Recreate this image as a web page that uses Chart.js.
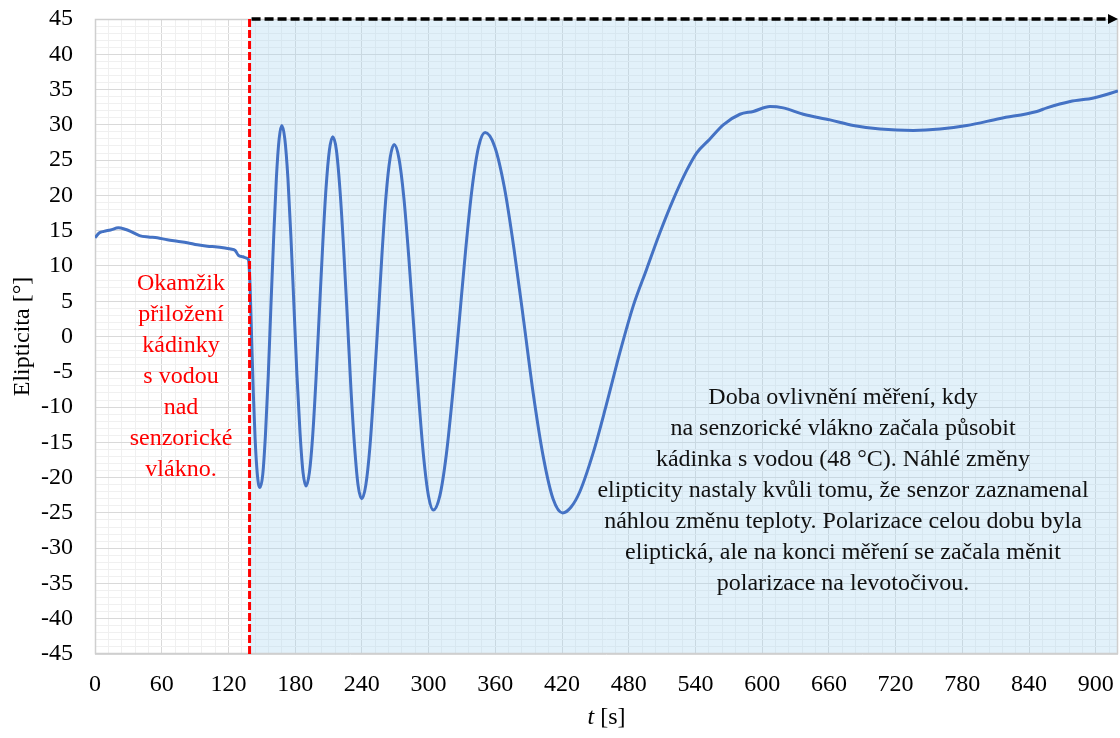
<!DOCTYPE html>
<html>
<head>
<meta charset="utf-8">
<script src="https://cdn.jsdelivr.net/npm/chart.js@4.4.1/dist/chart.umd.min.js"></script>
<style>
  html, body { margin: 0; padding: 0; background: #fff; }
</style>
</head>
<body>
<canvas id="chart" width="1120" height="738"></canvas>
<script>
const timeS = [
  0, 4, 8, 14, 21, 27, 32, 40, 48, 56, 65, 74, 83, 92, 101, 110, 118, 122, 126, 129, 133, 136.5, 138,
  139.5, 141, 142.5, 144, 145.5, 147, 148.4,
  150.9, 153.3, 155.8, 158.2, 160.7, 163.1, 165.6, 168,
  170.7, 173.5, 176.2, 178.9, 181.6, 184.4, 187.1, 189.8,
  192.8, 195.8, 198.8, 201.8, 204.8, 207.8, 210.8, 213.8,
  217.1, 220.3, 223.6, 226.9, 230.1, 233.4, 236.6, 239.9,
  243.5, 247.2, 250.8, 254.5, 258.1, 261.7, 265.4, 269,
  273.4, 277.8, 282.2, 286.7, 291.1, 295.5, 299.9, 304.3,
  310.1, 315.9, 321.7, 327.6, 333.4, 339.2, 345, 350.8,
  359.5, 368.3, 377, 385.7, 394.4, 403.2, 411.9, 420.6,
  428, 436, 448, 460, 472, 484, 496, 508, 520, 532, 541, 553, 565, 580, 592, 607, 619,
  637, 661, 682, 706, 736, 760, 784, 814, 847, 856, 877, 898, 920
];
const elipticita = [
  14.0, 14.7, 14.9, 15.1, 15.4, 15.2, 14.9, 14.3, 14.1, 14.0, 13.7, 13.5, 13.3, 13.0, 12.8, 12.7, 12.5, 12.4, 12.2, 11.5, 11.3, 11.1, 10.9,
  7.0, -1.0, -8.5, -14.5, -18.6, -20.9, -21.4,
  -19.5, -13.9, -5.6, 4.3, 14.1, 22.4, 28.0, 29.9,
  28.0, 22.4, 14.1, 4.4, -5.4, -13.7, -19.3, -21.2,
  -19.3, -14.0, -5.9, 3.6, 13.0, 21.1, 26.4, 28.3,
  26.4, 20.8, 12.5, 2.7, -7.2, -15.5, -21.1, -23.0,
  -21.1, -15.7, -7.5, 2.1, 11.7, 19.9, 25.3, 27.2,
  25.2, 19.6, 11.2, 1.3, -8.6, -17.0, -22.6, -24.6,
  -22.6, -16.8, -8.1, 2.2, 12.4, 21.1, 26.9, 28.9,
  26.9, 21.0, 12.2, 2.0, -8.4, -17.1, -23.0, -25.0,
  -24.2, -22.0, -16.5, -9.6, -2.3, 4.3, 9.5, 14.7, 19.4, 23.5, 26.0, 28.0, 30.0, 31.5, 31.9, 32.6, 32.4,
  31.5, 30.7, 29.9, 29.4, 29.2, 29.4, 29.9, 30.9, 31.9, 32.4, 33.3, 33.8, 34.8
];

const xRange = [0, 920];
const yRange = [-45, 45];
const xMajorStep = 60, xMinorStep = 12;
const yMajorStep = 5, yMinorStep = 1;
const contactTime = 139; // moment the beaker was applied

const leftNote = ['Okamžik', 'přiložení', 'kádinky', 's vodou', 'nad', 'senzorické', 'vlákno.'];
const rightNote = [
  'Doba ovlivnění měření, kdy',
  'na senzorické vlákno začala působit',
  'kádinka s vodou (48 °C). Náhlé změny',
  'elipticity nastaly kvůli tomu, že senzor zaznamenal',
  'náhlou změnu teploty. Polarizace celou dobu byla',
  'eliptická, ale na konci měření se začala měnit',
  'polarizace na levotočivou.'
];

const FONT = '"Liberation Serif", "Times New Roman", serif';
const points = timeS.map((t, i) => ({ x: t, y: elipticita[i] }));

const overlay = {
  id: 'overlay',
  beforeDatasetsDraw(chart) {
    const { ctx, chartArea: a, scales: { x } } = chart;
    const x0 = x.getPixelForValue(contactTime);
    ctx.save();
    ctx.fillStyle = 'rgba(173,216,240,0.35)';
    ctx.fillRect(x0, a.top, a.right - x0, a.bottom - a.top);
    ctx.strokeStyle = '#cfcfcf';
    ctx.lineWidth = 1.5;
    ctx.strokeRect(a.left + 0.5, a.top + 0.5, a.right - a.left - 1, a.bottom - a.top - 1);
    ctx.restore();
  },
  afterDatasetsDraw(chart) {
    const { ctx, chartArea: a, scales: { x, y } } = chart;
    const x0 = x.getPixelForValue(contactTime);
    ctx.save();
    // red dashed marker
    ctx.strokeStyle = '#ff0000';
    ctx.lineWidth = 3;
    ctx.setLineDash([8, 3]);
    ctx.beginPath();
    ctx.moveTo(x0, a.top);
    ctx.lineTo(x0, a.bottom);
    ctx.stroke();
    // black dashed arrow along the top
    const yTop = y.getPixelForValue(yRange[1]);
    ctx.strokeStyle = '#000';
    ctx.lineWidth = 3.5;
    ctx.setLineDash([9, 4]);
    ctx.beginPath();
    ctx.moveTo(x0 + 2, yTop);
    ctx.lineTo(a.right - 10, yTop);
    ctx.stroke();
    ctx.setLineDash([]);
    ctx.fillStyle = '#000';
    ctx.beginPath();
    ctx.moveTo(a.right, yTop);
    ctx.lineTo(a.right - 10, yTop - 5);
    ctx.lineTo(a.right - 10, yTop + 5);
    ctx.closePath();
    ctx.fill();

    // notes
    ctx.font = '24px ' + FONT;
    ctx.textAlign = 'center';
    ctx.textBaseline = 'middle';
    ctx.fillStyle = '#ff0000';
    leftNote.forEach((s, i) => ctx.fillText(s, 181, 284 + i * 31));
    ctx.fillStyle = '#111';
    rightNote.forEach((s, i) => ctx.fillText(s, 843, 398 + i * 31));

    // x axis title with italic t
    const cx = (a.left + a.right) / 2;
    const ty = 718;
    ctx.font = 'italic 24px ' + FONT;
    const w1 = ctx.measureText('t').width;
    ctx.font = '24px ' + FONT;
    const w2 = ctx.measureText(' [s]').width;
    const sx = cx - (w1 + w2) / 2;
    ctx.textAlign = 'left';
    ctx.fillStyle = '#000';
    ctx.font = 'italic 24px ' + FONT;
    ctx.fillText('t', sx, ty);
    ctx.font = '24px ' + FONT;
    ctx.fillText(' [s]', sx + w1, ty);
    ctx.restore();
  }
};

new Chart(document.getElementById('chart'), {
  type: 'line',
  data: {
    datasets: [{
      data: points,
      borderColor: '#4472c4',
      borderWidth: 3,
      pointRadius: 0,
      cubicInterpolationMode: 'monotone',
      fill: false
    }]
  },
  options: {
    responsive: false,
    animation: false,
    layout: { padding: { top: 19, right: 2, left: 0, bottom: 0 } },
    plugins: { legend: { display: false }, tooltip: { enabled: false } },
    scales: {
      x: {
        type: 'linear',
        min: xRange[0],
        max: xRange[1],
        afterFit(scale) {
          scale.height = 84;
          scale.paddingLeft = 0;
          scale.paddingRight = 0;
        },
        border: { display: false },
        grid: {
          drawTicks: false,
          color: c => (c.tick.value % xMajorStep === 0 ? '#d9d9d9' : '#f0f0f0')
        },
        ticks: {
          stepSize: xMinorStep,
          autoSkip: false,
          includeBounds: false,
          maxRotation: 0,
          padding: 16,
          color: '#000',
          font: { family: FONT, size: 24 },
          callback: v => (v % xMajorStep === 0 ? String(v) : '')
        }
      },
      y: {
        min: yRange[0],
        max: yRange[1],
        afterFit(scale) {
          scale.width = 95;
          scale.paddingTop = 0;
          scale.paddingBottom = 0;
        },
        border: { display: false },
        title: {
          display: true,
          text: 'Elipticita [°]',
          color: '#000',
          font: { family: FONT, size: 24 },
          padding: { top: 8, bottom: 0 }
        },
        grid: {
          drawTicks: false,
          color: c => (c.tick.value % yMajorStep === 0 ? '#d9d9d9' : '#f0f0f0')
        },
        ticks: {
          stepSize: yMinorStep,
          autoSkip: false,
          padding: 22,
          color: '#000',
          font: { family: FONT, size: 24 },
          callback: v => (v % yMajorStep === 0 ? String(v) : '')
        }
      }
    }
  },
  plugins: [overlay]
});
</script>
</body>
</html>
